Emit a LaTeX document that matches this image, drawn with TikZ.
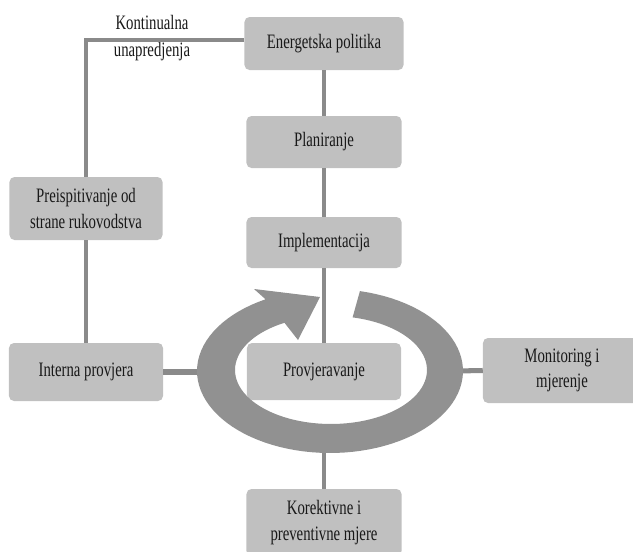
\documentclass[tikz,border=0pt]{standalone}
\usepackage{fontspec}
\setmainfont{Liberation Serif}
\usepackage{graphicx}
\definecolor{boxgray}{RGB}{192,192,192}
\definecolor{linegray}{RGB}{138,138,138}
\definecolor{ringgray}{RGB}{145,145,145}
\newcommand{\nar}[1]{\scalebox{0.72}[1]{#1}}

\begin{document}
\begin{tikzpicture}[x=0.03cm,y=-0.03cm,every node/.style={font=\fontsize{17.5}{22}\selectfont,text=black!90,align=center},
	box/.style={rectangle,rounded corners=0.15cm,fill=boxgray,inner sep=0pt,minimum width=4.65cm,minimum height=1.55cm},
	link/.style={draw=linegray,line width=3.6pt},
	spine/.style={draw=linegray,line width=2.8pt},
	arm/.style={draw=linegray,line width=4.3pt}]
	
	\useasboundingbox (0,0) rectangle (633,552);
	\clip (0,0) rectangle (633,552);
	
	% cycle
	\node[box,minimum width=4.77cm,minimum height=1.59cm] (pol) at (324,43.5) {\nar{Energetska politika}};
	\node[box,minimum height=1.56cm] (plan) at (324,142) {\nar{Planiranje}};
	\node[box,minimum height=1.53cm] (impl) at (324,242.5) {\nar{Implementacija}};
	\node[box,minimum width=4.62cm,minimum height=1.71cm] (prov) at (324,371.5) {\nar{Provjeravanje}};
	\node[box,minimum height=2.01cm] (kor) at (324,522.5) {\nar{Korektivne i}\\\nar{preventivne mjere}};
	\node[box,minimum width=4.74cm,minimum height=1.95cm] (mon) at (562,370.5) {\nar{Monitoring i}\\\nar{mjerenje}};
	\node[box,minimum width=4.62cm,minimum height=1.74cm] (int) at (86,372) {\nar{Interna provjera}};
	\node[box,minimum width=4.59cm,minimum height=1.89cm] (rev) at (86,208.5) {\nar{Preispitivanje od}\\\nar{strane rukovodstva}};
	\node[font=\fontsize{17.5}{23}\selectfont] (kont) at (152,38) {\nar{Kontinualna}\\\nar{unapredjenja}};
	
	\coordinate (ringW) at (206,372);
	\coordinate (ringE) at (456,371);
	\coordinate (ringS) at (324,446);
	
	\draw[link] ([yshift=0.11cm]pol.west) -| (rev.north);
	\draw[link] (rev.south) -- (int.north);
	\draw[spine] (pol.south) -- (plan.north);
	\draw[spine] (plan.south) -- (impl.north);
	\draw[spine] (impl.south) -- (prov.north);
	\draw[arm] (int.east) -- (ringW);
	\draw[arm] (ringE) -- (mon.west);
	\draw[spine] (ringS) -- (kor.north);
	
	% ring arrow
	\fill[ringgray] plot[domain=0:318,samples=90] ({330+133*cos(77-\x)},{371-82*sin(77-\x)})
		-- (254,289) -- (320,297) -- (298,340)
		-- plot[domain=0:318,samples=90] ({331+96*cos(\x-241)},{370-54*sin(\x-241)}) -- cycle;
\end{tikzpicture}
\end{document}
